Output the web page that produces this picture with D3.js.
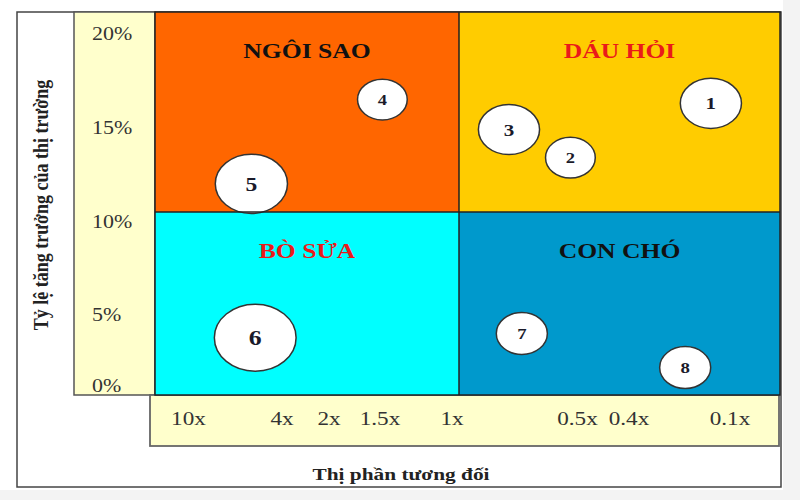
<!DOCTYPE html>
<html>
<head>
<meta charset="utf-8">
<script src="https://cdn.jsdelivr.net/npm/d3@7"></script>
<style>
  body { margin: 0; background: #fff; }
  text { font-family: "Liberation Serif", "Times New Roman", serif; }
</style>
</head>
<body>
<div id="bcg"></div>
<script>
// Datos de la matriz BCG
const productos     = ["1", "2", "3", "4", "5", "6", "7", "8"];
const cuotaRelativa = [0.13, 0.52, 0.73, 1.48, 5.4, 5.2, 0.68, 0.185];
const crecimiento   = [16.3, 13.4, 14.9, 16.5, 12.0, 3.4, 3.7, 1.3];
const ventas        = [56, 37, 56, 37, 78, 100, 39, 39];

const cuadrantes = ["NGÔI SAO", "DÁU HỎI", "BÒ SỬA", "CON CHÓ"];
const ticksX = [10, 4, 2, 1.5, 1, 0.5, 0.4, 0.1];
const ticksY = [0, 5, 10, 15, 20];
const tituloY = "Tỷ lệ tăng trưởng của thị trường";
const tituloX = "Thị phần tương đối";

function bcg() {

  // Configuración
  const width = 800, height = 500;
  const sx = 1.22;   // el dibujo original está estirado a lo ancho
  const marco = {left: 17, top: 12, right: 781, bottom: 487};
  const plot  = {left: 155, top: 12, right: 780, bottom: 395};
  const corte = {x: 459, y: 212};
  const panelY = {left: 74, right: 155};
  const panelX = {left: 150, right: 779, top: 395, bottom: 446};

  const colores = ["#ff6600", "#ffcc00", "#00ffff", "#0099cc"];
  const colorTitulo = ["#111", "#ea1a1a", "#ea1a1a", "#111"];

  // Escalas
  // el eje x del original (cuota relativa) tiene los ticks puestos a mano,
  // así que se usa una escala log por tramos anclada en cada tick
  const posTicksX = [188.5, 282, 329, 380, 452, 577.5, 629, 730];
  const x = d3.scaleLinear()
    .domain(ticksX.map(Math.log10))
    .range(posTicksX);

  const y = d3.scaleLinear()
    .domain([0, 5, 20])
    .range([386, 315, 34]);

  const r = d3.scaleSqrt()
    .domain([0, 100])
    .range([0, 33.5]);

  const svg = d3.select("#bcg")
    .append("svg")
    .attr("width", width)
    .attr("height", height);

  // fondo gris fuera del marco
  svg.append("rect")
    .attr("x", 783).attr("y", 0)
    .attr("width", width - 783).attr("height", height)
    .attr("fill", "#f3f3f3");
  svg.append("rect")
    .attr("x", 0).attr("y", 490)
    .attr("width", width).attr("height", height - 490)
    .attr("fill", "#f3f3f3");

  // marco exterior
  svg.append("rect")
    .attr("x", marco.left).attr("y", marco.top)
    .attr("width", marco.right - marco.left)
    .attr("height", marco.bottom - marco.top)
    .attr("fill", "#fff")
    .attr("stroke", "#444")
    .attr("stroke-width", 1.5);

  // paneles amarillos de los ejes
  svg.append("rect")
    .attr("x", panelY.left).attr("y", plot.top)
    .attr("width", panelY.right - panelY.left)
    .attr("height", plot.bottom - plot.top)
    .attr("fill", "#ffffcc")
    .attr("stroke", "#555")
    .attr("stroke-width", 1.5);

  svg.append("rect")
    .attr("x", panelX.left).attr("y", panelX.top)
    .attr("width", panelX.right - panelX.left)
    .attr("height", panelX.bottom - panelX.top)
    .attr("fill", "#ffffcc")
    .attr("stroke", "#666")
    .attr("stroke-width", 1.8);

  // cuadrantes
  const celdas = cuadrantes.map((nombre, i) => {
    const col = i % 2, fila = Math.floor(i / 2);
    return {
      nombre: nombre,
      x0: col ? corte.x : plot.left,
      x1: col ? plot.right : corte.x,
      y0: fila ? corte.y : plot.top,
      y1: fila ? plot.bottom : corte.y,
      color: colores[i],
      colorTexto: colorTitulo[i]
    };
  });

  svg.selectAll(".cuadrante")
    .data(celdas)
    .enter().append("rect")
    .attr("class", "cuadrante")
    .attr("x", d => d.x0).attr("y", d => d.y0)
    .attr("width", d => d.x1 - d.x0)
    .attr("height", d => d.y1 - d.y0)
    .attr("fill", d => d.color);

  // burbujas (elipses porque todo está estirado)
  const burbujas = productos.map((p, i) => ({
    nombre: p, cuota: cuotaRelativa[i], crec: crecimiento[i], ventas: ventas[i]
  }));

  const b = svg.selectAll(".burbuja")
    .data(burbujas)
    .enter().append("g")
    .attr("class", "burbuja")
    .attr("transform", d => `translate(${x(Math.log10(d.cuota))},${y(d.crec)})`);

  b.append("ellipse")
    .attr("rx", d => r(d.ventas) * sx)
    .attr("ry", d => r(d.ventas))
    .attr("fill", "#fff")
    .attr("stroke", "#333")
    .attr("stroke-width", 1.5);

  b.append("text")
    .attr("transform", `scale(${sx},1)`)
    .attr("text-anchor", "middle")
    .attr("dy", "0.35em")
    .attr("font-weight", "bold")
    .attr("font-size", d => 6 + r(d.ventas) * 0.45)
    .attr("fill", "#1a1a2a")
    .text(d => d.nombre);

  // lineas divisorias y borde del área
  const lineas = svg.append("g")
    .attr("stroke", "#222")
    .attr("stroke-width", 1.5);
  lineas.append("line")
    .attr("x1", corte.x).attr("x2", corte.x)
    .attr("y1", plot.top).attr("y2", plot.bottom);
  lineas.append("line")
    .attr("x1", plot.left).attr("x2", plot.right)
    .attr("y1", corte.y).attr("y2", corte.y);
  lineas.append("rect")
    .attr("x", plot.left).attr("y", plot.top)
    .attr("width", plot.right - plot.left)
    .attr("height", plot.bottom - plot.top)
    .attr("fill", "none");

  // títulos de los cuadrantes
  svg.selectAll(".titulo")
    .data(celdas)
    .enter().append("text")
    .attr("class", "titulo")
    .attr("transform", d => `translate(${(d.x0 + d.x1) / 2},${d.y0 + 46}) scale(${sx},1)`)
    .attr("text-anchor", "middle")
    .attr("font-weight", "bold")
    .attr("font-size", 21)
    .attr("fill", d => d.colorTexto)
    .text(d => d.nombre);

  // ticks del eje y
  svg.selectAll(".tickY")
    .data(ticksY)
    .enter().append("text")
    .attr("class", "tickY")
    .attr("transform", d => `translate(92,${y(d)}) scale(${sx},1)`)
    .attr("dy", "0.35em")
    .attr("font-size", 18)
    .attr("fill", "#333")
    .text(d => d + "%");

  // ticks del eje x
  svg.selectAll(".tickX")
    .data(ticksX)
    .enter().append("text")
    .attr("class", "tickX")
    .attr("transform", d => `translate(${x(Math.log10(d))},418) scale(${sx},1)`)
    .attr("text-anchor", "middle")
    .attr("dy", "0.35em")
    .attr("font-size", 19)
    .attr("fill", "#333")
    .text(d => d + "x");

  // títulos de los ejes
  svg.append("text")
    .attr("transform", `translate(48,205) scale(${sx},1) rotate(-90)`)
    .attr("text-anchor", "middle")
    .attr("font-weight", "bold")
    .attr("font-size", 18)
    .attr("fill", "#222")
    .text(tituloY);

  svg.append("text")
    .attr("transform", `translate(401,480) scale(${sx},1)`)
    .attr("text-anchor", "middle")
    .attr("font-weight", "bold")
    .attr("font-size", 17.5)
    .attr("fill", "#222")
    .text(tituloX);
}

bcg();
</script>
</body>
</html>
